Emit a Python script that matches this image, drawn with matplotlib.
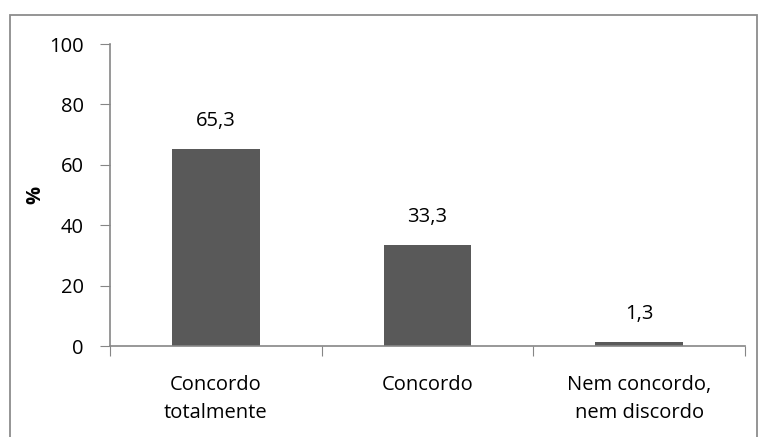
import matplotlib.pyplot as plt
from matplotlib.patches import Rectangle

categories = ['Concordo\ntotalmente', 'Concordo', 'Nem concordo,\nnem discordo']
values = [65.3, 33.3, 1.3]
labels = ['65,3', '33,3', '1,3']
yticks = [0, 20, 40, 60, 80, 100]

plt.rcParams['font.family'] = ['Open Sans', 'DejaVu Sans']

fig = plt.figure(figsize=(7.58, 4.37), dpi=100)
W, H = 758, 437
ax = fig.add_axes([110 / W, 1 - 346 / H, (745 - 110) / W, (346 - 44) / H])

axis_col = '#868686'
fs = 14.5
x = range(len(categories))
ax.bar(x, values, width=0.415, color='#595959')
for xi, v, lab in zip(x, values, labels):
    ax.text(xi, v + 6, lab, ha='center', va='bottom', fontsize=fs, color='black')

ax.set_xlim(-0.5, 2.5)
ax.set_ylim(0, 100)
ax.set_yticks(yticks)
ax.set_yticklabels([str(t) for t in yticks], fontsize=fs)
ax.set_xticks([-0.5, 0.5, 1.5, 2.5])
ax.set_xticklabels([])
ax.set_xticks(list(x), minor=True)
ax.set_xticklabels(categories, minor=True, fontsize=fs, linespacing=1.5)
ax.tick_params(axis='x', which='minor', length=0, pad=21)
ax.tick_params(axis='x', which='major', length=7, color=axis_col, direction='out')
ax.tick_params(axis='y', length=7, color=axis_col, direction='out', pad=12)
ax.set_ylabel('%', fontsize=fs, fontweight='bold')
ax.yaxis.set_label_coords((45 - 110) / 635, 0.5)

for s in ['top', 'right']:
    ax.spines[s].set_visible(False)
for s in ['left', 'bottom']:
    ax.spines[s].set_color(axis_col)
    ax.spines[s].set_linewidth(1.2)

fig.patches.append(Rectangle((10 / W, -0.01), (757 - 10) / W, (1 - 15 / H) + 0.01,
                             transform=fig.transFigure, fill=False,
                             edgecolor='#8c8c8c', linewidth=1.3))

fig.savefig('out.png', dpi=100)
